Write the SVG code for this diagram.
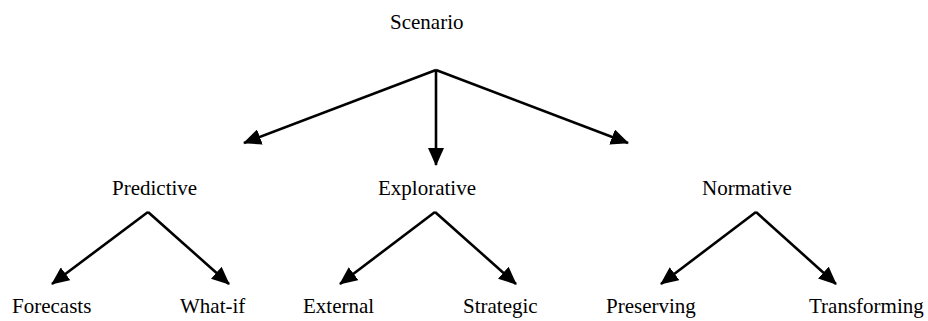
<svg xmlns="http://www.w3.org/2000/svg" width="928" height="321" viewBox="0 0 928 321">
<defs>
<marker id="ah" markerUnits="userSpaceOnUse" markerWidth="18" markerHeight="16" viewBox="0 0 18 16" refX="17" refY="8" orient="auto">
<path d="M0,0 L18,8 L0,16 Z" fill="#000"/>
</marker>
</defs>
<style>
.c line{stroke:#000;stroke-width:2.6;marker-end:url(#ah)}
</style>
<rect width="928" height="321" fill="#fff"/>
<g font-family="'Liberation Serif', 'DejaVu Serif', serif" font-size="21" fill="#000">
<g id="scenario"><text x="390" y="29">Scenario</text></g>
<g id="predictive"><text x="112" y="195">Predictive</text></g>
<g id="explorative"><text x="378" y="195">Explorative</text></g>
<g id="normative"><text x="702" y="195">Normative</text></g>
<g id="forecasts"><text x="12" y="313">Forecasts</text></g>
<g id="whatif"><text x="180" y="313">What-if</text></g>
<g id="external"><text x="303" y="313">External</text></g>
<g id="strategic"><text x="463" y="313">Strategic</text></g>
<g id="preserving"><text x="606" y="313">Preserving</text></g>
<g id="transforming"><text x="809" y="313">Transforming</text></g>
</g>
<g id="connectors" class="c">
<line x1="436" y1="70" x2="244" y2="143"/>
<line x1="436" y1="70" x2="436" y2="165"/>
<line x1="436" y1="70" x2="628" y2="143"/>
<line x1="148" y1="212" x2="52" y2="284"/>
<line x1="148" y1="212" x2="229" y2="284"/>
<line x1="435" y1="212" x2="340" y2="284"/>
<line x1="435" y1="212" x2="516" y2="284"/>
<line x1="756" y1="212" x2="661" y2="284"/>
<line x1="756" y1="212" x2="836" y2="284"/>
</g>
</svg>
